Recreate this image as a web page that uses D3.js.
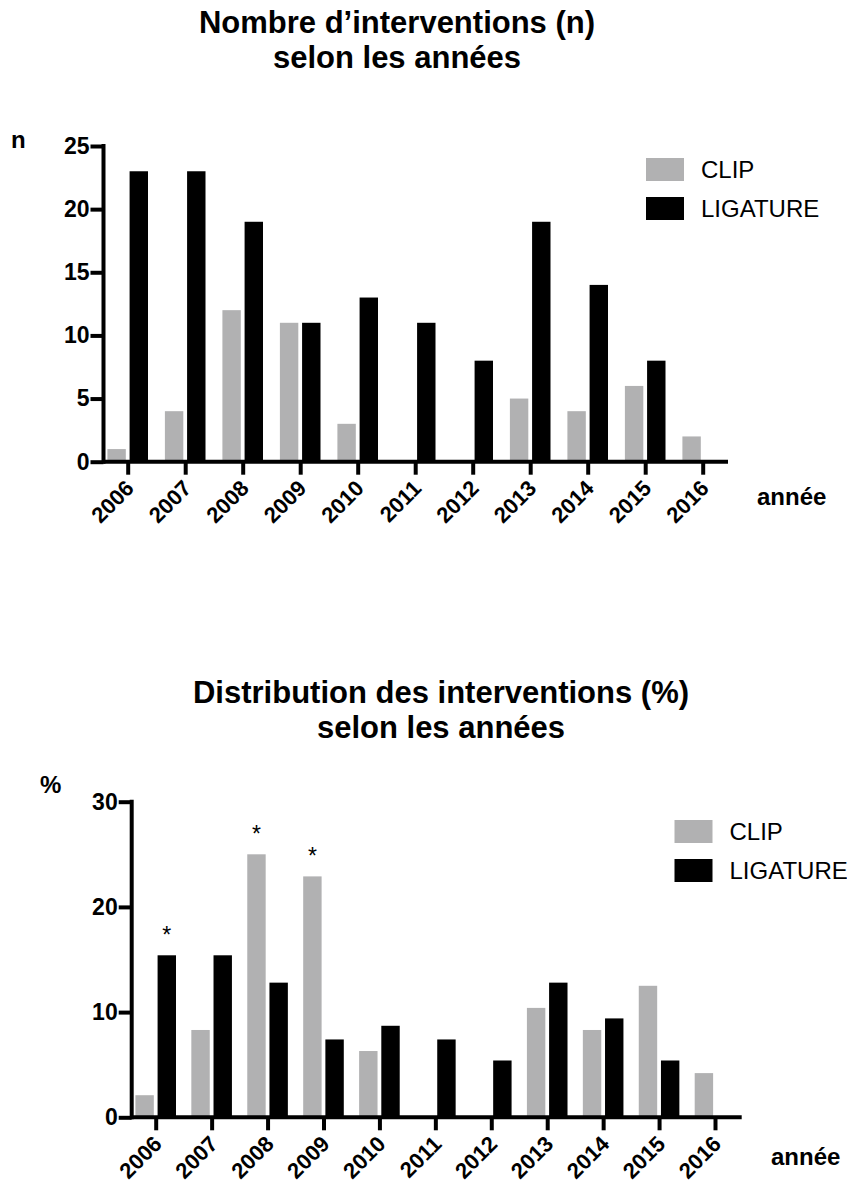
<!DOCTYPE html>
<html>
<head>
<meta charset="utf-8">
<script src="https://cdn.jsdelivr.net/npm/d3@7"></script>
<style>
  body { margin: 0; background: #fff; }
  svg { display: block; font-family: "Liberation Sans", Arial, Helvetica, sans-serif; }
  .axis path, .axis line { stroke: #000; stroke-width: 4px; }
  .axis text { font-weight: bold; font-size: 23px; fill: #000; }
  .axis.x text { font-size: 22px; }
  .title { font-weight: bold; font-size: 31px; }
  .lbl { font-weight: bold; font-size: 24px; }
  .leg { font-size: 24px; }
</style>
</head>
<body>
<svg id="chart" width="847" height="1186"></svg>
<script>
(function() {
  var years = ['2006', '2007', '2008', '2009', '2010', '2011', '2012', '2013', '2014', '2015', '2016'];
  var series = ['CLIP', 'LIGATURE'];
  var colors = ['#b1b1b2', '#000000'];

  // nombre d'interventions (n)
  var clipCount = [1, 4, 12, 11, 3, 0, 0, 5, 4, 6, 2];
  var ligCount = [23, 23, 19, 11, 13, 11, 8, 19, 14, 8, 0];
  var countTicks = [0, 5, 10, 15, 20, 25];

  // distribution des interventions (%)
  var clipPct = [2.1, 8.3, 25, 22.9, 6.3, 0, 0, 10.4, 8.3, 12.5, 4.2];
  var ligPct = [15.4, 15.4, 12.8, 7.4, 8.7, 7.4, 5.4, 12.8, 9.4, 5.4, 0];
  var pctTicks = [0, 10, 20, 30];

  // asterisques (differences significatives)
  var starYears = ['2006', '2008', '2009'];
  var starSeries = ['LIGATURE', 'CLIP', 'CLIP'];

  var svg = d3.select('#chart');

  var drawPanel = function(opt) {
    var g, x, y, sub, rows, xAxis, yAxis;

    x = d3.scalePoint().domain(years).range([opt.x0, opt.x1]);
    y = d3.scaleLinear().domain([0, opt.max]).range([opt.y0, opt.y1]);
    sub = d3.scaleBand().domain(series).range([-20.3, 20.3]).paddingInner(0.17);

    g = svg.append('g');

    rows = years.map(function(yr, i) {
      return { year: yr, values: [opt.clip[i], opt.lig[i]] };
    });

    g.selectAll('g.year').data(rows).enter().append('g')
      .attr('class', 'year')
      .attr('transform', function(d) { return 'translate(' + x(d.year) + ',0)'; })
      .selectAll('rect').data(function(d) {
        return d.values.map(function(v, j) { return { key: series[j], value: v }; });
      }).enter().filter(function(d) { return d.value > 0; }).append('rect')
      .attr('x', function(d) { return sub(d.key); })
      .attr('width', sub.bandwidth())
      .attr('y', function(d) { return y(d.value); })
      .attr('height', function(d) { return y(0) - y(d.value); })
      .attr('fill', function(d) { return colors[series.indexOf(d.key)]; });

    // axe x
    xAxis = g.append('g').attr('class', 'axis x')
      .attr('transform', 'translate(0,' + opt.y0 + ')')
      .call(d3.axisBottom(x).tickSize(13).tickSizeOuter(0).tickPadding(4));
    xAxis.select('.domain').remove();
    xAxis.append('line')
      .attr('x1', opt.yAxisX).attr('x2', opt.xEnd)
      .attr('y1', 0).attr('y2', 0);
    xAxis.selectAll('.tick text')
      .attr('text-anchor', 'end')
      .attr('dy', null)
      .attr('y', null)
      .attr('transform', 'translate(7,28) rotate(-45)');

    // axe y
    yAxis = g.append('g').attr('class', 'axis')
      .attr('transform', 'translate(' + opt.yAxisX + ',0)')
      .call(d3.axisLeft(y).tickValues(opt.ticks).tickSize(13).tickSizeOuter(0).tickPadding(1));
    yAxis.select('.domain').attr('d', 'M0,' + (opt.y1 - 2) + 'V' + (opt.y0 + 2));

    g.append('text').attr('class', 'lbl')
      .attr('x', opt.unitX).attr('y', opt.unitY).text(opt.unit);
    g.append('text').attr('class', 'lbl')
      .attr('x', opt.anneeX).attr('y', opt.anneeY).text('année');

    g.selectAll('text.title').data(opt.title).enter().append('text')
      .attr('class', 'title')
      .attr('text-anchor', 'middle')
      .attr('x', opt.titleX)
      .attr('y', function(d, i) { return opt.titleY + i * 35; })
      .text(function(d) { return d; });

    // legende
    var leg = g.selectAll('g.leg').data(series).enter().append('g')
      .attr('class', 'leg')
      .attr('transform', function(d, i) { return 'translate(' + opt.legX + ',' + (opt.legY + i * 39) + ')'; });
    leg.append('rect').attr('width', 38).attr('height', 23)
      .attr('fill', function(d, i) { return colors[i]; });
    leg.append('text').attr('x', 55).attr('y', 20).text(function(d) { return d; });

    if (opt.stars) {
      g.selectAll('text.star').data(starYears).enter().append('text')
        .attr('class', 'star')
        .attr('text-anchor', 'middle')
        .attr('font-size', '23px')
        .attr('x', function(d, i) { return x(d) + sub(starSeries[i]) + sub.bandwidth() / 2; })
        .attr('y', function(d, i) {
          var j = years.indexOf(d);
          var v = starSeries[i] === 'CLIP' ? opt.clip[j] : opt.lig[j];
          return y(v) - 12;
        })
        .text('*');
    }
  };

  drawPanel({
    clip: clipCount, lig: ligCount, ticks: countTicks, max: 25,
    x0: 127.7, x1: 702.7, y0: 461.7, y1: 146, yAxisX: 103.5, xEnd: 728,
    unit: 'n', unitX: 11, unitY: 148, anneeX: 757, anneeY: 505,
    title: ['Nombre d\u2019interventions (n)', 'selon les années'], titleX: 397, titleY: 33,
    legX: 646, legY: 158, stars: false
  });

  drawPanel({
    clip: clipPct, lig: ligPct, ticks: pctTicks, max: 30,
    x0: 155.7, x1: 715, y0: 1117.3, y1: 801.7, yAxisX: 131.7, xEnd: 741.7,
    unit: '%', unitX: 40, unitY: 793, anneeX: 771, anneeY: 1165,
    title: ['Distribution des interventions (%)', 'selon les années'], titleX: 441, titleY: 703,
    legX: 674.5, legY: 820, stars: true
  });
})();
</script>
</body>
</html>
